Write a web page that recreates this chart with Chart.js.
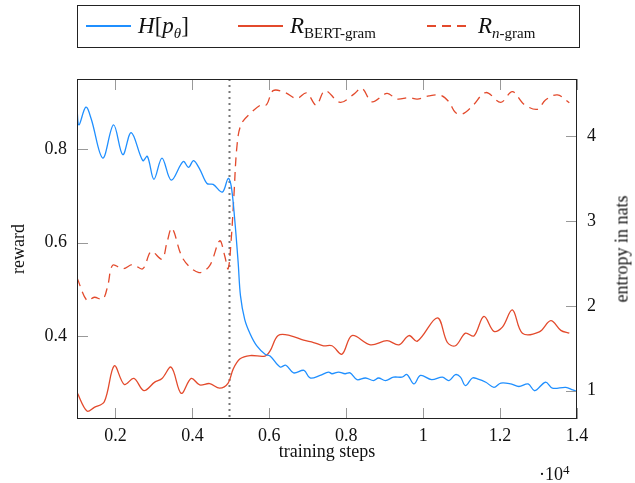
<!DOCTYPE html>
<html>
<head>
<meta charset="utf-8">
<script src="https://cdn.jsdelivr.net/npm/chart.js@4.4.1/dist/chart.umd.min.js"></script>
<style>
  html, body { margin: 0; padding: 0; background: #fff; }
  #wrap { position: relative; width: 635px; height: 483px; font-family: 'Liberation Serif', serif; color: #111; }
  #grafico { position: absolute; left: 0; top: 0; }
  #leyenda { position: absolute; left: 77px; top: 5px; width: 503px; height: 43px; box-sizing: border-box; border: 1px solid #222; }
  .muestra { position: absolute; top: 25px; height: 1.5px; }
  .muestra.azul { background: #1f8fff; }
  .muestra.rojo { background: #e34a2c; }
  .muestra.rayas { background: repeating-linear-gradient(to right, #e34a2c 0 9px, transparent 9px 15px); }
  .txt { position: absolute; top: 14px; font-size: 23px; line-height: 23px; white-space: nowrap; }
  .txt i { font-style: italic; }
  .txt sub { font-size: 15px; vertical-align: -5px; line-height: 0; }
  #tituloDer { position: absolute; left: 622px; top: 249px; font-size: 18px; white-space: nowrap; color: #111;
    transform: translate(-50%, -50%) rotate(-90deg); }
  #exponente { position: absolute; left: 539px; top: 465px; font-size: 18px; line-height: 18px; }
  #exponente sup { font-size: 13px; vertical-align: 6px; line-height: 0; }
</style>
</head>
<body>
<div id="wrap">
  <canvas id="grafico" width="635" height="483"></canvas>
  <div id="leyenda"></div>
  <div class="muestra azul" style="left:86px;width:45px"></div>
  <div class="txt" style="left:138px"><i>H</i>[<i>p</i><sub><i>θ</i></sub>]</div>
  <div class="muestra rojo" style="left:238px;width:45px"></div>
  <div class="txt" style="left:290px"><i>R</i><sub>BERT-gram</sub></div>
  <div class="muestra rayas" style="left:427px;width:41px"></div>
  <div class="txt" style="left:478px"><i>R</i><sub><i>n</i>-gram</sub></div>
  <div id="tituloDer">entropy in nats</div>
  <div id="exponente">·10<sup>4</sup></div>
</div>
<script>
// training steps in units of 10^4
const pasosEntropia = [0.100, 0.105, 0.123, 0.137, 0.167, 0.195, 0.219, 0.241, 0.271, 0.283, 0.300, 0.321, 0.345,
  0.376, 0.390, 0.403, 0.419, 0.438, 0.454, 0.478, 0.493, 0.501, 0.510, 0.519, 0.525, 0.536, 0.550, 0.567, 0.589,
  0.602, 0.628, 0.643, 0.663, 0.690, 0.706, 0.732, 0.754, 0.763, 0.780, 0.797, 0.810, 0.828, 0.850, 0.871, 0.884,
  0.902, 0.923, 0.945, 0.958, 0.976, 0.993, 1.022, 1.050, 1.067, 1.084, 1.097, 1.110, 1.128, 1.141, 1.163, 1.184,
  1.202, 1.228, 1.249, 1.273, 1.290, 1.318, 1.336, 1.371, 1.389, 1.402];
const entropia = [4.33, 4.13, 4.34, 4.20, 3.74, 4.13, 3.78, 4.04, 3.71, 3.76, 3.49, 3.74, 3.48,
  3.70, 3.63, 3.71, 3.61, 3.44, 3.43, 3.34, 3.50, 3.41, 3.02, 2.51, 2.12, 1.84, 1.67, 1.53, 1.43,
  1.41, 1.28, 1.30, 1.21, 1.24, 1.15, 1.18, 1.22, 1.20, 1.22, 1.20, 1.21, 1.13, 1.15, 1.12, 1.15,
  1.12, 1.16, 1.16, 1.19, 1.08, 1.18, 1.13, 1.16, 1.12, 1.19, 1.16, 1.06, 1.15, 1.14, 1.10, 1.04,
  1.09, 1.08, 1.05, 1.08, 1.00, 1.10, 1.03, 1.04, 1.01, 0.99];

const pasosBert = [0.100, 0.126, 0.145, 0.171, 0.197, 0.223, 0.248, 0.274, 0.302, 0.321, 0.345, 0.371, 0.397,
  0.419, 0.445, 0.471, 0.493, 0.506, 0.524, 0.550, 0.589, 0.602, 0.623, 0.654, 0.689, 0.715, 0.741, 0.763,
  0.789, 0.815, 0.863, 0.906, 0.937, 0.963, 0.985, 1.037, 1.063, 1.084, 1.110, 1.132, 1.158, 1.184, 1.206,
  1.232, 1.258, 1.302, 1.332, 1.358, 1.380];
const recompensaBert = [0.279, 0.239, 0.247, 0.259, 0.336, 0.296, 0.309, 0.283, 0.301, 0.309, 0.333, 0.277, 0.309,
  0.295, 0.298, 0.288, 0.299, 0.329, 0.351, 0.358, 0.357, 0.368, 0.401, 0.401, 0.391, 0.386, 0.379, 0.379,
  0.361, 0.401, 0.381, 0.390, 0.381, 0.401, 0.389, 0.439, 0.386, 0.379, 0.406, 0.400, 0.442, 0.410, 0.419,
  0.456, 0.406, 0.409, 0.433, 0.412, 0.406];

const pasosNgram = [0.100, 0.126, 0.145, 0.167, 0.180, 0.193, 0.219, 0.245, 0.271, 0.293, 0.321, 0.334, 0.347,
  0.376, 0.417, 0.445, 0.471, 0.484, 0.493, 0.501, 0.508, 0.516, 0.527, 0.553, 0.579, 0.593, 0.610, 0.641,
  0.671, 0.697, 0.722, 0.745, 0.784, 0.819, 0.841, 0.867, 0.906, 0.932, 0.963, 0.985, 1.015, 1.046, 1.067,
  1.084, 1.102, 1.128, 1.163, 1.202, 1.232, 1.262, 1.297, 1.318, 1.349, 1.380];
const recompensaNgram = [0.525, 0.476, 0.483, 0.479, 0.508, 0.552, 0.544, 0.553, 0.544, 0.581, 0.565, 0.601, 0.631,
  0.565, 0.536, 0.551, 0.604, 0.572, 0.544, 0.608, 0.701, 0.808, 0.854, 0.879, 0.896, 0.896, 0.926, 0.922,
  0.909, 0.921, 0.895, 0.926, 0.901, 0.918, 0.931, 0.902, 0.920, 0.908, 0.911, 0.908, 0.915, 0.916, 0.902,
  0.879, 0.876, 0.893, 0.922, 0.901, 0.924, 0.897, 0.886, 0.906, 0.917, 0.900];

const ticksX       = [0.2, 0.4, 0.6, 0.8, 1.0, 1.2, 1.4];
const etiquetasX   = ['0.2', '0.4', '0.6', '0.8', '1', '1.2', '1.4'];
const ticksReward  = [0.4, 0.6, 0.8];
const etiquetasRew = ['0.4', '0.6', '0.8'];
const ticksEntropy = [1, 2, 3, 4];
const pasoCorte    = 0.495;

const AZUL = '#1f8fff';
const ROJO = '#e34a2c';
const fuente = { family: "'Liberation Serif', serif", size: 18 };

const pares = (xs, ys) => xs.map((x, i) => ({ x, y: ys[i] }));
const fijarTicks = lista => s => { s.ticks = lista.map(v => ({ value: v })); };

const marco = {
  id: 'marco',
  beforeDatasetsDraw(chart) {
    const { ctx, chartArea: a, scales } = chart;
    const xc = Math.round(scales.x.getPixelForValue(pasoCorte)) + 0.5;
    ctx.save();
    ctx.strokeStyle = '#777';
    ctx.lineWidth = 2;
    ctx.setLineDash([2, 4]);
    ctx.beginPath();
    ctx.moveTo(xc, a.top);
    ctx.lineTo(xc, a.bottom);
    ctx.stroke();
    ctx.restore();
  },
  afterDatasetsDraw(chart) {
    const { ctx, chartArea: a, scales } = chart;
    const L = 11;
    ctx.save();
    ctx.strokeStyle = '#999';
    ctx.lineWidth = 1;
    ctx.beginPath();
    ticksX.forEach(v => {
      const px = Math.round(scales.x.getPixelForValue(v)) + 0.5;
      ctx.moveTo(px, a.bottom); ctx.lineTo(px, a.bottom - L);
      ctx.moveTo(px, a.top);    ctx.lineTo(px, a.top + L);
    });
    ticksReward.forEach(v => {
      const py = Math.round(scales.y.getPixelForValue(v)) + 0.5;
      ctx.moveTo(a.left, py); ctx.lineTo(a.left + L, py);
    });
    ticksEntropy.forEach(v => {
      const py = Math.round(scales.y1.getPixelForValue(v)) + 0.5;
      ctx.moveTo(a.right, py); ctx.lineTo(a.right - L, py);
    });
    ctx.stroke();
    ctx.strokeStyle = '#222';
    ctx.strokeRect(a.left + 0.5, a.top + 0.5, a.right - a.left - 1, a.bottom - a.top - 1);
    ctx.restore();
  }
};

new Chart(document.getElementById('grafico'), {
  type: 'line',
  data: {
    datasets: [
      { label: 'H[p_θ]', data: pares(pasosEntropia, entropia), yAxisID: 'y1',
        borderColor: AZUL, borderWidth: 1.3, pointRadius: 0, tension: 0.35, fill: false },
      { label: 'R_BERT-gram', data: pares(pasosBert, recompensaBert), yAxisID: 'y',
        borderColor: ROJO, borderWidth: 1.3, pointRadius: 0, tension: 0.35, fill: false },
      { label: 'R_n-gram', data: pares(pasosNgram, recompensaNgram), yAxisID: 'y',
        borderColor: ROJO, borderWidth: 1.3, borderDash: [9, 6], pointRadius: 0, tension: 0.35, fill: false }
    ]
  },
  options: {
    responsive: false, animation: false,
    layout: { padding: { top: 79, left: 0, right: 0, bottom: 0 } },
    plugins: { legend: { display: false }, tooltip: { enabled: false } },
    scales: {
      x: {
        type: 'linear', min: 0.1, max: 1.4,
        afterBuildTicks: fijarTicks(ticksX),
        afterFit: s => { s.height = 64; },
        grid: { display: false, drawTicks: false }, border: { display: false },
        ticks: { padding: 6, font: fuente, color: '#111', maxRotation: 0, callback: (v, i) => etiquetasX[i] },
        title: { display: true, text: 'training steps', font: fuente, color: '#111', padding: { top: 0, bottom: 20 } }
      },
      y: {
        position: 'left', min: 0.222, max: 0.951,
        afterBuildTicks: fijarTicks(ticksReward),
        afterFit: s => { s.width = 77; },
        grid: { display: false, drawTicks: false }, border: { display: false },
        ticks: { padding: 10, font: fuente, color: '#111', callback: (v, i) => etiquetasRew[i] },
        title: { display: true, text: 'reward', font: fuente, color: '#111', padding: { top: 8, bottom: 0 } }
      },
      y1: {
        position: 'right', min: 0.667, max: 4.671,
        afterBuildTicks: fijarTicks(ticksEntropy),
        afterFit: s => { s.width = 58; },
        grid: { display: false, drawTicks: false }, border: { display: false },
        ticks: { padding: 10, font: fuente, color: '#111', callback: v => String(v) }
      }
    }
  },
  plugins: [marco]
});
</script>
</body>
</html>
